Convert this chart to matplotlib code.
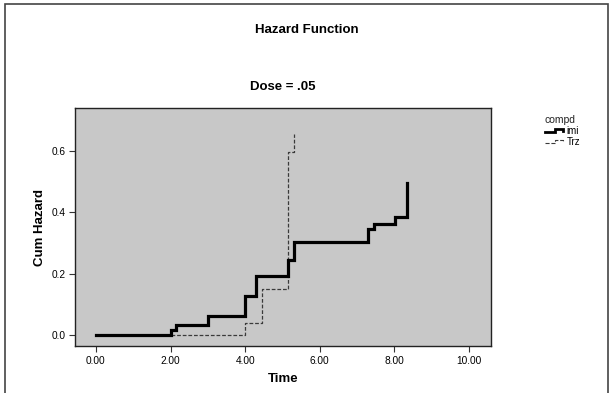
import matplotlib
matplotlib.use("Agg")
import matplotlib.pyplot as plt
from matplotlib.lines import Line2D
from matplotlib.legend_handler import HandlerLine2D
from matplotlib.patches import Rectangle

plt.rcParams['font.family'] = ['Liberation Sans', 'DejaVu Sans']

# step data (time, cumulative hazard)
imi_time = [0.0, 2.00, 2.16, 3.00, 4.00, 4.29, 5.15, 5.30, 7.30, 7.46, 8.03, 8.34]
imi_haz = [0.0, 0.016, 0.033, 0.062, 0.127, 0.193, 0.246, 0.303, 0.344, 0.363, 0.385, 0.496]

trz_time = [2.00, 4.00, 4.44, 5.14, 5.30]
trz_haz = [0.0, 0.038, 0.149, 0.597, 0.656]

xticks = [0, 2, 4, 6, 8, 10]
yticks = [0.0, 0.2, 0.4, 0.6]


class StepHandler(HandlerLine2D):
    # legend icon drawn as a small step, like the SPSS legend
    def create_artists(self, legend, orig_handle, xdescent, ydescent,
                       width, height, fontsize, trans):
        x0 = -xdescent
        y0 = -ydescent
        xs = [x0, x0 + width * 0.5, x0 + width * 0.5, x0 + width * 0.92, x0 + width * 0.92]
        ys = [y0 + height * 0.25, y0 + height * 0.25, y0 + height * 0.75, y0 + height * 0.75, y0 + height * 0.45]
        ln = Line2D(xs, ys, color=orig_handle.get_color(),
                    lw=orig_handle.get_linewidth(),
                    linestyle=orig_handle.get_linestyle(),
                    solid_joinstyle='miter')
        ln.set_transform(trans)
        return [ln]


fig = plt.figure(figsize=(6.13, 3.93), dpi=100)
fig.patches.append(Rectangle((5 / 613, -0.1), 603 / 613, (393 - 4) / 393 + 0.1,
                             transform=fig.transFigure, fill=False,
                             edgecolor='#444444', lw=1.2))

ax = fig.add_axes([75 / 613, 1 - 346 / 393, 416 / 613, 238 / 393])
ax.set_facecolor('#c8c8c8')

ax.step(imi_time, imi_haz, where='post', color='black', lw=2.3,
        solid_joinstyle='miter', zorder=3)
ax.step(trz_time, trz_haz, where='post', color='#3a3a3a', lw=0.9,
        linestyle=(0, (3, 1.5)), zorder=2)

ax.set_xlim(-0.56, 10.59)
ax.set_ylim(-0.036, 0.74)
ax.set_xticks(xticks)
ax.set_xticklabels([f'{t:.2f}' for t in xticks])
ax.set_yticks(yticks)
ax.set_yticklabels([f'{t:.1f}' for t in yticks])
ax.tick_params(labelsize=7.3, length=4, width=0.8, color='#333333', pad=3)
for s in ax.spines.values():
    s.set_linewidth(1.0)
    s.set_color('#222222')

ax.set_xlabel('Time', fontsize=9.5, fontweight='bold', labelpad=5)
ax.set_ylabel('Cum Hazard', fontsize=9.5, fontweight='bold', labelpad=4)

fig.text(0.5, 1 - 30 / 393, 'Hazard Function', ha='center', va='center',
         fontsize=9.5, fontweight='bold')
fig.text(283 / 613, 1 - 87 / 393, 'Dose = .05', ha='center', va='center',
         fontsize=9.5, fontweight='bold')

h_imi = Line2D([], [], color='black', lw=2.0)
h_trz = Line2D([], [], color='#3a3a3a', lw=0.8, linestyle=(0, (2, 1)))
leg = fig.legend([h_imi, h_trz], ['imi', 'Trz'], title='compd',
                 loc='upper left', bbox_to_anchor=(540 / 613, 1 - 110 / 393),
                 frameon=False, fontsize=7, title_fontsize=7.5,
                 handler_map={Line2D: StepHandler()},
                 handlelength=2.0, handletextpad=0.25, labelspacing=0.1,
                 borderpad=0, alignment='left')
leg.get_title().set_color('#222222')

fig.savefig('out.png', dpi=100)
